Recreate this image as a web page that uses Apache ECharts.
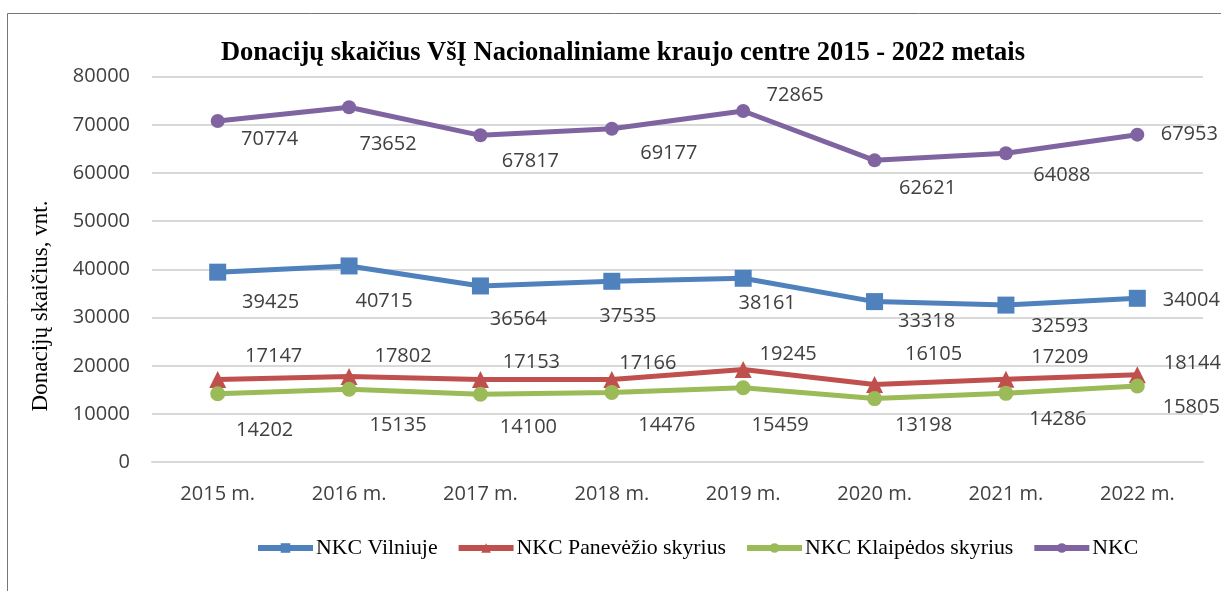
<!DOCTYPE html>
<html>
<head>
<meta charset="utf-8">
<script src="https://cdn.jsdelivr.net/npm/echarts@6/dist/echarts.min.js"></script>
<style>
  html, body { margin: 0; padding: 0; background: #fff; }
  #chart { width: 1221px; height: 591px; }
</style>
</head>
<body>
<div id="chart"></div>
<script>
// metai
const years = ["2015 m.", "2016 m.", "2017 m.", "2018 m.", "2019 m.", "2020 m.", "2021 m.", "2022 m."];
const yTicks = [0, 10000, 20000, 30000, 40000, 50000, 60000, 70000, 80000];

// donaciju skaicius
const vilniuje = [39425, 40715, 36564, 37535, 38161, 33318, 32593, 34004];
const panevezio = [17147, 17802, 17153, 17166, 19245, 16105, 17209, 18144];
const klaipedos = [14202, 15135, 14100, 14476, 15459, 13198, 14286, 15805];
const nkc = [70774, 73652, 67817, 69177, 72865, 62621, 64088, 67953];

// etikeciu poslinkiai nuo tasko (kaip originale)
const vilniujeOffsets = [[53, 30], [35, 35], [38, 33], [16, 35], [24, 25], [52, 20], [54, 21], [54, 2]];
const panevezioOffsets = [[56, -23], [54, -20], [51, -17], [36, -16], [45, -15], [59, -30], [54, -22], [55, -11]];
const klaipedosOffsets = [[47, 37], [49, 36], [48, 33], [55, 33], [37, 38], [49, 27], [52, 26], [54, 21]];
const nkcOffsets = [[52, 18], [39, 37], [50, 26], [57, 25], [52, -16], [53, 28], [56, 22], [52, 0]];

const chart = echarts.init(document.getElementById("chart"));

function withLabels(values, offsets) {
  return values.map((v, i) => ({
    value: v,
    label: { offset: offsets[i] },
  }));
}

function makeSeries(name, values, offsets, color, symbol, size) {
  return {
    name: name,
    type: "line",
    data: withLabels(values, offsets),
    symbol: symbol,
    symbolSize: size,
    lineStyle: { color: color, width: 5 },
    itemStyle: { color: color },
    label: {
      show: true,
      position: "inside",
      color: "#404040",
      fontFamily: "Open Sans",
      fontSize: 20,
    },
    emphasis: { disabled: true },
    z: 3,
  };
}

const option = {
  animation: false,
  title: {
    text: "Donacijų skaičius VšĮ Nacionaliniame kraujo centre 2015 - 2022 metais",
    left: 618,
    textAlign: "center",
    top: 35,
    textStyle: {
      fontFamily: "Liberation Serif",
      fontWeight: "bold",
      fontSize: 26.5,
      color: "#000",
    },
  },
  graphic: [
    {
      type: "rect",
      shape: { x: 7.5, y: 13.5, width: 1300, height: 700 },
      style: { fill: "none", stroke: "#767676", lineWidth: 1 },
      silent: true,
    },
    {
      // y asies pavadinimas
      type: "text",
      x: 41,
      y: 306,
      rotation: Math.PI / 2,
      style: {
        text: "Donacijų skaičius, vnt.",
        fontFamily: "Liberation Serif",
        fontSize: 23,
        fill: "#000",
        align: "center",
        verticalAlign: "middle",
      },
      silent: true,
    },
  ],
  legend: {
    left: 250,
    top: 532,
    itemWidth: 55,
    itemHeight: 12,
    itemGap: 18,
    lineStyle: { width: 6 },
    textStyle: {
      fontFamily: "Liberation Serif",
      fontSize: 21.8,
      color: "#000",
      padding: [0, 0, 0, -2],
    },
    data: ["NKC Vilniuje", "NKC Panevėžio skyrius", "NKC Klaipėdos skyrius", "NKC"],
  },
  grid: {
    left: 152,
    right: 18,
    top: 76.6,
    bottom: 128.8,
    containLabel: false,
  },
  xAxis: {
    type: "category",
    data: years,
    boundaryGap: true,
    axisLine: { show: true, lineStyle: { color: "#D9D9D9", width: 2 } },
    axisTick: { show: false },
    axisLabel: {
      color: "#404040",
      fontFamily: "Open Sans",
      fontSize: 20,
      margin: 22,
    },
  },
  yAxis: {
    type: "value",
    min: yTicks[0],
    max: yTicks[yTicks.length - 1],
    interval: yTicks[1] - yTicks[0],
    axisLine: { show: false },
    axisTick: { show: false },
    axisLabel: {
      color: "#404040",
      fontFamily: "Open Sans",
      fontSize: 20,
      margin: 22,
      formatter: (v) => String(v),
    },
    splitLine: { lineStyle: { color: "#D9D9D9", width: 2 } },
  },
  series: [
    makeSeries("NKC Vilniuje", vilniuje, vilniujeOffsets, "#4F81BD", "rect", 17),
    makeSeries("NKC Panevėžio skyrius", panevezio, panevezioOffsets, "#C0504D", "triangle", 17),
    makeSeries("NKC Klaipėdos skyrius", klaipedos, klaipedosOffsets, "#9BBB59", "circle", 15),
    makeSeries("NKC", nkc, nkcOffsets, "#8064A2", "circle", 14),
  ],
};

chart.setOption(option);
</script>
</body>
</html>
